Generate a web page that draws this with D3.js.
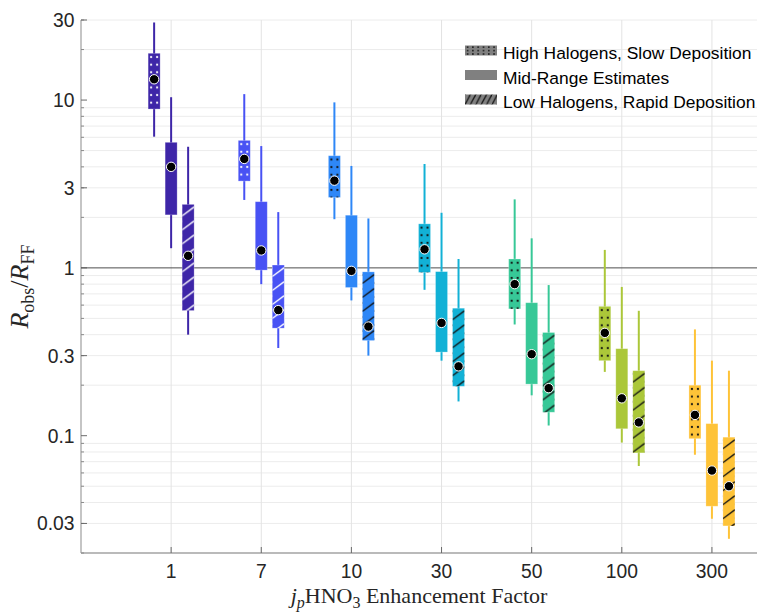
<!DOCTYPE html>
<html>
<head>
<meta charset="utf-8">
<script src="https://d3js.org/d3.v7.min.js"></script>
<style>
  body { margin: 0; background: #fff; }
  svg { display: block; }
</style>
</head>
<body>
<div id="chart"></div>
<script>
// categories (jpHNO3 enhancement factor)
const categories = ["1", "7", "10", "30", "50", "100", "300"];
// parula(7)
const colors = ["#3e26a8", "#4852f4", "#2e87f7", "#12b1d6", "#37c897", "#abc739", "#fec338"];
const darkInk = [true, true, false, false, false, false, false];

// High Halogens, Slow Deposition (dotted)
const highWhiskerHi = [29.0, 10.85, 9.69, 4.16, 2.56, 1.28, 0.43];
const highQ3 = [19.0, 5.75, 4.66, 1.83, 1.13, 0.59, 0.20];
const highMean = [13.3, 4.46, 3.31, 1.29, 0.80, 0.41, 0.133];
const highQ1 = [8.84, 3.29, 2.63, 0.94, 0.57, 0.28, 0.096];
const highWhiskerLo = [6.05, 2.54, 1.95, 0.74, 0.46, 0.24, 0.077];

// Mid-Range Estimates (solid)
const midWhiskerHi = [10.4, 5.32, 4.05, 2.13, 1.50, 0.77, 0.28];
const midQ3 = [5.6, 2.48, 2.06, 0.95, 0.62, 0.33, 0.118];
const midMean = [4.0, 1.27, 0.96, 0.47, 0.306, 0.167, 0.062];
const midQ1 = [2.07, 0.97, 0.764, 0.315, 0.203, 0.11, 0.038];
const midWhiskerLo = [1.31, 0.80, 0.64, 0.28, 0.174, 0.091, 0.032];

// Low Halogens, Rapid Deposition (hatched)
const lowWhiskerHi = [5.27, 2.15, 1.97, 1.13, 0.79, 0.555, 0.244];
const lowQ3 = [2.39, 1.04, 0.947, 0.575, 0.412, 0.244, 0.098];
const lowMean = [1.18, 0.56, 0.447, 0.259, 0.192, 0.12, 0.050];
const lowQ1 = [0.557, 0.4375, 0.369, 0.197, 0.138, 0.079, 0.029];
const lowWhiskerLo = [0.40, 0.333, 0.30, 0.16, 0.115, 0.066, 0.0243];

const yTicks = [0.03, 0.1, 0.3, 1, 3, 10, 30];
const yTickLabels = ["0.03", "0.1", "0.3", "1", "3", "10", "30"];
const legendLabels = ["High Halogens, Slow Deposition", "Mid-Range Estimates", "Low Halogens, Rapid Deposition"];

const W = 757, H = 613;
const plotLeft = 81, plotRight = 757, plotTop = 20, plotBottom = 553;

const svg = d3.select("#chart").append("svg")
    .attr("width", W).attr("height", H)
    .style("font-family", "'Liberation Sans', Arial, Helvetica, sans-serif");

const defs = svg.append("defs");

const x = d3.scaleLinear().domain([0, 7.5]).range([plotLeft, plotRight]);
const y = d3.scaleLog().domain([0.02, 30]).range([plotBottom, plotTop]);

// minor grid (log)
const minor = [];
[0.01, 0.1, 1, 10].forEach(dec => {
    for (let k = 2; k <= 9; k++) {
        const v = dec * k;
        if (v >= 0.02 && v <= 30) minor.push(v);
    }
});
svg.append("g").selectAll("line").data(minor).enter().append("line")
    .attr("x1", plotLeft).attr("x2", plotRight)
    .attr("y1", d => y(d)).attr("y2", d => y(d))
    .attr("stroke", "#ececec").attr("stroke-width", 1);

// vertical grid
svg.append("g").selectAll("line").data(categories).enter().append("line")
    .attr("x1", (d, i) => x(i + 1)).attr("x2", (d, i) => x(i + 1))
    .attr("y1", plotTop).attr("y2", plotBottom)
    .attr("stroke", "#e3e3e3").attr("stroke-width", 1);

// axes
svg.append("line").attr("x1", plotLeft).attr("x2", plotLeft).attr("y1", plotTop).attr("y2", plotBottom)
    .attr("stroke", "#a6a6a6").attr("stroke-width", 1.3);
svg.append("line").attr("x1", plotLeft).attr("x2", plotRight).attr("y1", plotBottom).attr("y2", plotBottom)
    .attr("stroke", "#a6a6a6").attr("stroke-width", 1.3);

// y ticks
svg.append("g").selectAll("line").data(minor).enter().append("line")
    .attr("x1", plotLeft).attr("x2", plotLeft + 3)
    .attr("y1", d => y(d)).attr("y2", d => y(d))
    .attr("stroke", "#8a8a8a");
svg.append("g").selectAll("line").data(yTicks).enter().append("line")
    .attr("x1", plotLeft).attr("x2", plotLeft + 6)
    .attr("y1", d => y(d)).attr("y2", d => y(d))
    .attr("stroke", "#6a6a6a");
svg.append("g").selectAll("text").data(yTicks).enter().append("text")
    .attr("x", plotLeft - 6.5).attr("y", d => y(d) + 7)
    .attr("text-anchor", "end").attr("font-size", 19.3).attr("fill", "#262626")
    .text((d, i) => yTickLabels[i]);

// x ticks
svg.append("g").selectAll("line").data(categories).enter().append("line")
    .attr("x1", (d, i) => x(i + 1)).attr("x2", (d, i) => x(i + 1))
    .attr("y1", plotBottom).attr("y2", plotBottom - 6)
    .attr("stroke", "#6a6a6a");
svg.append("g").selectAll("text").data(categories).enter().append("text")
    .attr("x", (d, i) => x(i + 1)).attr("y", 578)
    .attr("text-anchor", "middle").attr("font-size", 19.3).attr("fill", "#262626")
    .text(d => d);

// reference line at 1
svg.append("line").attr("x1", plotLeft).attr("x2", plotRight).attr("y1", y(1)).attr("y2", y(1))
    .attr("stroke", "#4d4d4d").attr("stroke-width", 1);

// boxes
const scenarios = [
    { name: "high", hi: highWhiskerHi, q3: highQ3, mean: highMean, q1: highQ1, lo: highWhiskerLo, offset: -17 },
    { name: "mid", hi: midWhiskerHi, q3: midQ3, mean: midMean, q1: midQ1, lo: midWhiskerLo, offset: 0 },
    { name: "low", hi: lowWhiskerHi, q3: lowQ3, mean: lowMean, q1: lowQ1, lo: lowWhiskerLo, offset: 17 }
];
const boxW = 12;

scenarios.forEach(s => {
    categories.forEach((c, i) => {
        const cx = x(i + 1) + s.offset;
        const x0 = cx - boxW / 2;
        const yTop = y(s.q3[i]), yBot = y(s.q1[i]);
        const ink = darkInk[i] ? "#ffffff" : "#111111";
        const g = svg.append("g");
        g.append("line")
            .attr("x1", cx).attr("x2", cx)
            .attr("y1", y(s.hi[i])).attr("y2", y(s.lo[i]))
            .attr("stroke", colors[i]).attr("stroke-width", 2);
        g.append("rect")
            .attr("x", x0).attr("y", yTop).attr("width", boxW).attr("height", yBot - yTop)
            .attr("fill", colors[i])
            .attr("stroke", "#ffffff").attr("stroke-opacity", 0.3).attr("stroke-width", 0.8);
        if (s.name !== "mid") {
            const id = `pat-${s.name}-${i}`;
            const p = defs.append("pattern").attr("id", id)
                .attr("patternUnits", "userSpaceOnUse")
                .attr("x", x0).attr("y", yTop);
            if (s.name === "high") {
                p.attr("width", boxW).attr("height", 7.6);
                p.append("circle").attr("cx", 3).attr("cy", 3.8).attr("r", 1.1).attr("fill", ink);
                p.append("circle").attr("cx", 9).attr("cy", 3.8).attr("r", 1.1).attr("fill", ink);
            } else {
                p.attr("width", boxW).attr("height", 14);
                p.append("line").attr("x1", 0).attr("y1", 11.5).attr("x2", boxW).attr("y2", 2.5)
                    .attr("stroke", ink).attr("stroke-width", 1.4);
            }
            g.append("rect")
                .attr("x", x0).attr("y", yTop).attr("width", boxW).attr("height", yBot - yTop)
                .attr("fill", `url(#${id})`);
        }
        g.append("circle")
            .attr("cx", cx).attr("cy", y(s.mean[i])).attr("r", 4.7)
            .attr("fill", "#000").attr("stroke", "#fff").attr("stroke-width", 1);
    });
});

// legend
const legX = 465, legY = [45.5, 70, 94.5];
const swW = 32, swH = 10;
const lp1 = defs.append("pattern").attr("id", "leg-dot").attr("patternUnits", "userSpaceOnUse")
    .attr("x", legX).attr("y", legY[0]).attr("width", 5.3).attr("height", 3.4);
lp1.append("circle").attr("cx", 2.6).attr("cy", 1.7).attr("r", 0.9).attr("fill", "#111");
const lp2 = defs.append("pattern").attr("id", "leg-hatch").attr("patternUnits", "userSpaceOnUse")
    .attr("x", legX).attr("y", legY[2]).attr("width", 5.4).attr("height", swH);
lp2.append("line").attr("x1", 0).attr("y1", swH).attr("x2", 5.4).attr("y2", 0)
    .attr("stroke", "#111").attr("stroke-width", 1.3);

legendLabels.forEach((lab, i) => {
    svg.append("rect").attr("x", legX).attr("y", legY[i]).attr("width", swW).attr("height", swH)
        .attr("fill", "#808080");
    if (i === 0) svg.append("rect").attr("x", legX).attr("y", legY[i]).attr("width", swW).attr("height", swH)
        .attr("fill", "url(#leg-dot)");
    if (i === 2) svg.append("rect").attr("x", legX).attr("y", legY[i]).attr("width", swW).attr("height", swH)
        .attr("fill", "url(#leg-hatch)");
    svg.append("text").attr("x", 503).attr("y", legY[i] + 13.5)
        .attr("font-size", 17.4).attr("fill", "#000").text(lab);
});

// axis labels
const serif = "'Liberation Serif', 'Times New Roman', serif";
const yl = svg.append("text")
    .attr("transform", `translate(28, ${(plotTop + plotBottom) / 2}) rotate(-90)`)
    .attr("text-anchor", "middle").attr("font-family", serif).attr("font-size", 26).attr("fill", "#262626");
yl.append("tspan").attr("font-style", "italic").text("R");
yl.append("tspan").attr("font-size", 18).attr("dy", 6).text("obs");
yl.append("tspan").attr("dy", -6).text("/");
yl.append("tspan").attr("font-style", "italic").text("R");
yl.append("tspan").attr("font-size", 18).attr("dy", 6).text("FF");

const xl = svg.append("text")
    .attr("x", (plotLeft + plotRight) / 2).attr("y", 603)
    .attr("text-anchor", "middle").attr("font-family", serif).attr("font-size", 22).attr("fill", "#262626");
xl.append("tspan").attr("font-style", "italic").text("j");
xl.append("tspan").attr("font-style", "italic").attr("font-size", 16).attr("dy", 5).text("p");
xl.append("tspan").attr("dy", -5).text("HNO");
xl.append("tspan").attr("font-size", 16).attr("dy", 5).text("3");
xl.append("tspan").attr("dy", -5).text("\u00a0Enhancement Factor");
</script>
</body>
</html>
